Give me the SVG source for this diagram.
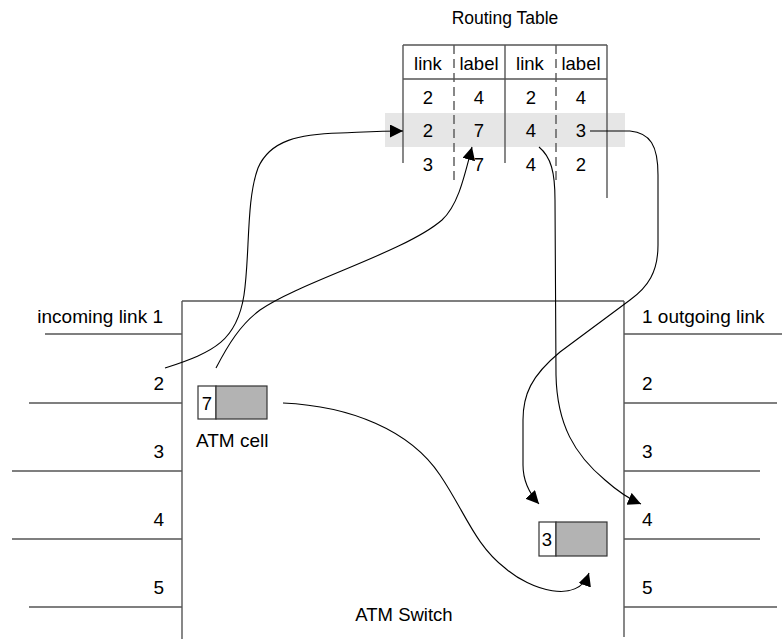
<svg xmlns="http://www.w3.org/2000/svg" width="782" height="639" viewBox="0 0 782 639">
  <style>
    text { font-family: "Liberation Sans", Arial, sans-serif; font-size: 18.5px; fill: #000; }
    .side { font-size: 19px; }
    .title { font-size: 17.5px; }
    .mid { text-anchor: middle; }
    .end { text-anchor: end; }
    .frame { stroke: #555; stroke-width: 1.4; fill: none; }
    .dash { stroke: #555; stroke-width: 1.4; fill: none; stroke-dasharray: 9 5; }
    .flow { stroke: #000; stroke-width: 1.1; fill: none; marker-end: url(#head); }
    .cellbox { stroke: #333; stroke-width: 1.2; }
  </style>
  <defs>
    <marker id="head" markerUnits="userSpaceOnUse" markerWidth="14" markerHeight="14" refX="13" refY="6.5" orient="auto">
      <path d="M0,0 L13,6.5 L0,13 z" fill="#000"/>
    </marker>
  </defs>
  <rect width="782" height="639" fill="#fff"/>

  <!-- Routing table -->
  <g id="routing-table">
    <text class="mid title" x="505" y="24">Routing Table</text>
    <rect x="385" y="113" width="240" height="34" fill="#e6e6e6"/>
    <line class="frame" x1="403" y1="45" x2="607" y2="45"/>
    <line class="frame" x1="403" y1="79" x2="607" y2="79"/>
    <line class="frame" x1="403" y1="45" x2="403" y2="163"/>
    <line class="frame" x1="505" y1="45" x2="505" y2="163"/>
    <line class="frame" x1="607" y1="45" x2="607" y2="198"/>
    <line class="dash" x1="454" y1="45" x2="454" y2="183"/>
    <line class="dash" x1="556" y1="45" x2="556" y2="183"/>
    <text class="mid" x="428" y="70">link</text>
    <text class="mid" x="479" y="70">label</text>
    <text class="mid" x="530" y="70">link</text>
    <text class="mid" x="581" y="70">label</text>
    <text class="mid" x="428" y="104">2</text>
    <text class="mid" x="479" y="104">4</text>
    <text class="mid" x="531" y="104">2</text>
    <text class="mid" x="581" y="104">4</text>
    <text class="mid" x="428" y="137">2</text>
    <text class="mid" x="479" y="137">7</text>
    <text class="mid" x="531" y="137">4</text>
    <text class="mid" x="581" y="137">3</text>
    <text class="mid" x="428" y="171">3</text>
    <text class="mid" x="479" y="171">7</text>
    <text class="mid" x="531" y="171">4</text>
    <text class="mid" x="581" y="171">2</text>
  </g>

  <!-- Switch body -->
  <g id="atm-switch">
    <line class="frame" x1="182" y1="301" x2="624" y2="301"/>
    <line class="frame" x1="182" y1="301" x2="182" y2="639"/>
    <line class="frame" x1="624" y1="301" x2="624" y2="637"/>
    <text class="mid" x="404" y="621">ATM Switch</text>
  </g>

  <!-- Incoming links -->
  <g id="incoming-links">
    <line class="frame" x1="45" y1="334" x2="182" y2="334"/>
    <line class="frame" x1="29" y1="403" x2="182" y2="403"/>
    <line class="frame" x1="12" y1="471" x2="182" y2="471"/>
    <line class="frame" x1="12" y1="539" x2="182" y2="539"/>
    <line class="frame" x1="29" y1="607" x2="182" y2="607"/>
    <text class="end side" x="163" y="323">incoming link 1</text>
    <text class="end side" x="164" y="390">2</text>
    <text class="end side" x="164" y="458">3</text>
    <text class="end side" x="164" y="526">4</text>
    <text class="end side" x="164" y="594">5</text>
  </g>

  <!-- Outgoing links -->
  <g id="outgoing-links">
    <line class="frame" x1="624" y1="334" x2="782" y2="334"/>
    <line class="frame" x1="624" y1="403" x2="777" y2="403"/>
    <line class="frame" x1="624" y1="471" x2="760" y2="471"/>
    <line class="frame" x1="624" y1="539" x2="760" y2="539"/>
    <line class="frame" x1="624" y1="607" x2="777" y2="607"/>
    <text class="side" x="642" y="323">1 outgoing link</text>
    <text class="side" x="642" y="390">2</text>
    <text class="side" x="642" y="458">3</text>
    <text class="side" x="642" y="526">4</text>
    <text class="side" x="642" y="594">5</text>
  </g>

  <!-- Incoming cell -->
  <g id="cell-in">
    <rect class="cellbox" x="198" y="386" width="18" height="33" fill="#fff"/>
    <rect class="cellbox" x="216" y="386" width="51" height="33" fill="#b3b3b3"/>
    <text class="mid" x="207" y="410">7</text>
    <text class="side" x="196" y="447">ATM cell</text>
  </g>

  <!-- Outgoing cell -->
  <g id="cell-out">
    <rect class="cellbox" x="539" y="522" width="17" height="34" fill="#fff"/>
    <rect class="cellbox" x="556" y="522" width="51" height="34" fill="#b3b3b3"/>
    <text class="mid" x="547" y="546">3</text>
  </g>

  <!-- Lookup and forwarding paths -->
  <g id="connectors">
    <path class="flow" d="M165,368 C215,352 237,340 244,295 C250,255 246,200 258,168 C270,140 300,134 340,133 C365,132 380,131 403,131"/>
    <path class="flow" d="M216,368 C228,345 240,325 260,310 C300,282 405,252 442,220 C458,205 464,178 472,147"/>
    <path class="flow" d="M539,147 C551,157 555,172 555,200 L556,375 C557,425 575,455 605,480 C614,488 627,498 641,504"/>
    <path class="flow" d="M590,131 L630,131 C650,133 658,145 658,175 L658,245 C658,272 648,287 630,300 L560,352 C531,376 523,395 523,420 L523,465 C523,480 528,492 539,504"/>
    <path class="flow" d="M283,403 C350,406 410,430 440,475 C465,512 475,545 505,568 C530,590 578,605 589,573"/>
  </g>
</svg>
